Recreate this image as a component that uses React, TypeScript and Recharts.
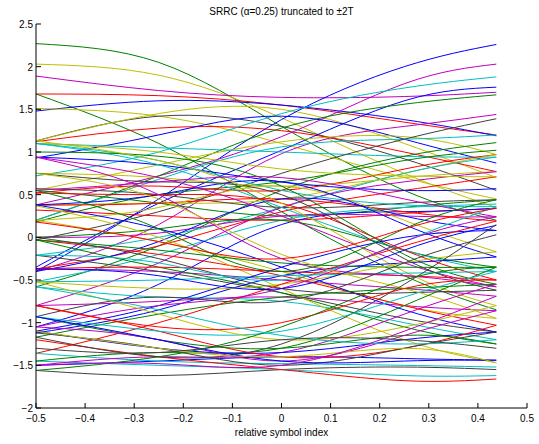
import { LineChart, Line, XAxis, YAxis } from 'recharts'

// sample positions of each trace (symbol periods)
const X_SAMPLES = [-0.5, -0.25, 0, 0.25, 0.4375]

const X_TICKS = [-0.5, -0.4, -0.3, -0.2, -0.1, 0, 0.1, 0.2, 0.3, 0.4, 0.5]
const Y_TICKS = [-2, -1.5, -1, -0.5, 0, 0.5, 1, 1.5, 2, 2.5]

// traces whose centre value sits in the top level
const TOP_TRACES = [
  [2.27, 2.05, 1.3, 0.55, 0.2],
  [2.03, 1.9, 1.4, 0.75, 0.35],
  [1.89, 1.72, 1.64, 1.65, 1.7],
  [1.68, 1.66, 1.55, 1.35, 1.2],
  [1.68, 1.1, 0.3, -0.45, -0.85],
  [1.48, 1.6, 1.55, 1.38, 1.19],
  [1.51, 1.42, 1.1, 0.7, 0.45],
  [1.13, 1.42, 1.3, 0.92, 0.55],
  [1.13, 1.45, 1.5, 1.1, 0.7],
  [1.12, 1.28, 1.25, 1.0, 0.77],
  [-0.4, 0.45, 1.38, 2.0, 2.26],
  [0.38, 0.72, 1.18, 1.8, 2.03],
  [0.72, 1.0, 1.45, 1.75, 1.88],
  [-0.35, 0.4, 1.02, 1.6, 1.76],
  [0.2, 0.72, 1.28, 1.56, 1.67],
  [-0.4, 0.15, 0.98, 1.3, 1.44],
  [0.93, 1.2, 1.42, 1.15, 0.87],
  [0.55, 0.85, 1.12, 1.18, 0.97],
  [0.2, 0.68, 1.06, 1.15, 1.2],
  [1.1, 1.05, 1.0, 0.95, 0.94],
]
const TOP_COLORS = 'gymrgbykyrbmcbgmbycc'

const UPPER_TRACES = [
  [-0.03, 0.3, 0.75, 1.15, 1.39],
  [-0.58, -0.1, 0.55, 0.95, 1.11],
  [0.18, 0.5, 0.65, 0.9, 1.02],
  [0.52, 0.6, 0.55, 0.8, 0.97],
  [0.37, 0.4, 0.45, 0.75, 0.97],
  [-0.21, 0.0, 0.35, 0.75, 0.94],
  [0.75, 0.7, 0.6, 0.7, 0.77],
  [-0.8, -0.3, 0.35, 0.65, 0.77],
  [-0.37, -0.1, 0.3, 0.55, 0.71],
  [1.1, 1.0, 0.8, 0.72, 0.71],
  [0.94, 0.85, 0.65, 0.55, 0.57],
  [0.55, 0.4, 0.25, 0.35, 0.44],
  [0.57, 0.5, 0.35, 0.4, 0.44],
  [-0.52, -0.2, 0.2, 0.35, 0.39],
  [0.32, 0.25, 0.2, 0.28, 0.34],
  [-1.05, -0.55, 0.15, 0.3, 0.34],
  [1.1, 0.9, 0.55, 0.38, 0.36],
  [0.0, 0.05, 0.25, 0.25, 0.24],
  [0.38, 0.4, 0.45, 0.3, 0.19],
  [-0.4, -0.05, 0.45, 0.25, 0.08],
  [0.2, 0.35, 0.6, 0.2, -0.17],
  [0.38, 0.5, 0.65, 0.15, -0.23],
  [0.0, 0.1, 0.2, -0.15, -0.35],
  [1.1, 0.85, 0.35, -0.15, -0.4],
  [0.52, 0.5, 0.4, -0.15, -0.5],
  [1.0, 0.95, 0.6, -0.2, -0.55],
  [0.94, 0.7, 0.25, -0.3, -0.58],
  [0.75, 0.65, 0.5, -0.25, -0.62],
  [1.13, 0.9, 0.4, -0.4, -0.8],
  [0.55, 0.65, 0.7, 0.45, 0.24],
]
const UPPER_COLORS = 'kggrycymrybgkcrbcmrbybgcrgmkym'

const LOWER_TRACES = [
  [-0.37, -0.4, -0.5, -0.6, -0.69],
  [-0.8, -0.75, -0.7, -0.8, -0.86],
  [0.2, -0.05, -0.4, -0.8, -0.95],
  [-0.03, -0.2, -0.45, -0.8, -1.03],
  [0.38, 0.1, -0.35, -0.85, -1.11],
  [-0.21, -0.4, -0.65, -0.95, -1.11],
  [-0.58, -0.7, -0.75, -1.0, -1.2],
  [-0.03, -0.35, -0.65, -1.05, -1.25],
  [0.37, 0.0, -0.6, -1.2, -1.47],
  [-1.12, -0.85, -0.45, -0.3, -0.23],
  [-0.03, -0.15, -0.3, -0.35, -0.35],
  [-0.37, -0.35, -0.4, -0.45, -0.5],
  [-0.52, -0.5, -0.45, -0.42, -0.4],
  [0.94, 0.5, -0.25, -0.45, -0.58],
  [-0.52, -0.6, -0.55, -0.3, -0.17],
  [0.0, -0.25, -0.6, -0.65, -0.62],
  [-1.1, -0.8, -0.35, 0.0, 0.08],
  [-1.17, -0.9, -0.7, -0.6, -0.55],
  [-1.36, -1.0, -0.55, -0.1, 0.19],
  [-0.21, -0.3, -0.5, -0.05, 0.36],
  [-1.05, -0.8, -0.6, -0.05, 0.24],
  [0.75, 0.45, -0.2, -0.6, -0.95],
  [-0.93, -0.7, -0.75, -0.3, 0.03],
  [-0.37, -0.45, -0.6, -0.15, 0.14],
  [0.55, 0.1, -0.4, 0.1, 0.44],
  [0.18, -0.05, -0.25, 0.1, 0.34],
]
const LOWER_COLORS = 'mmyrbkcgybgrcmykbgrcmykbgr'

const BOTTOM_TRACES = [
  [-1.5, -1.45, -1.4, -1.42, -1.44],
  [-1.36, -1.45, -1.48, -1.5, -1.52],
  [-1.56, -1.62, -1.55, -1.52, -1.55],
  [-1.45, -1.5, -1.55, -1.62, -1.62],
  [-1.2, -1.4, -1.55, -1.68, -1.66],
  [-1.45, -1.35, -1.3, -0.8, -0.35],
  [-1.5, -1.4, -1.35, -0.9, -0.55],
  [-1.17, -1.4, -1.25, -0.55, 0.15],
  [-1.1, -1.3, -1.35, -1.2, -1.11],
  [-0.8, -1.1, -1.4, -1.3, -1.03],
  [-0.93, -1.2, -1.3, -1.15, -1.25],
  [-0.93, -1.1, -1.1, -0.7, -0.4],
  [-0.52, -0.9, -1.2, -1.05, -0.8],
  [-1.05, -1.2, -1.45, -1.15, -0.86],
  [-1.12, -1.3, -1.5, -1.3, -1.11],
  [-0.93, -1.2, -1.45, -1.45, -1.44],
  [-0.8, -1.05, -1.0, -0.6, -0.5],
  [-1.56, -1.4, -1.05, -0.5, -0.35],
  [-0.58, -0.85, -1.15, -1.25, -1.2],
  [-1.1, -1.3, -1.4, -1.3, -1.47],
  [-1.5, -1.48, -1.5, -1.1, -0.69],
  [-1.3, -1.35, -1.2, -1.2, -1.3],
]
const BOTTOM_COLORS = 'bckcrgmkbrgcymkbrgcymk'

// matlab default colour order
const MATLAB_COLORS: Record<string, string> = {
  b: '#0000ff',
  g: '#008000',
  r: '#ff0000',
  c: '#00bfbf',
  m: '#bf00bf',
  y: '#bfbf00',
  k: '#404040',
}

const TRACES = [...TOP_TRACES, ...UPPER_TRACES, ...LOWER_TRACES, ...BOTTOM_TRACES]
const TRACE_COLORS = (TOP_COLORS + UPPER_COLORS + LOWER_COLORS + BOTTOM_COLORS).split('')

const data = X_SAMPLES.map((x, i) => {
  const row: Record<string, number> = { x }
  TRACES.forEach((t, j) => {
    row[`t${j}`] = t[i]
  })
  return row
})

const FONT = 'Arial, "Liberation Sans", Helvetica, sans-serif'

const fmt = (v: number) => (v < 0 ? `\u2212${Math.abs(v)}` : `${v}`)

function BottomTick(props: any) {
  const { x, y, payload } = props
  return (
    <g>
      <line x1={x} x2={x} y1={y} y2={y - 5} stroke="#000" />
      <text x={x} y={y + 14} textAnchor="middle" fontSize={10} fontFamily={FONT} fill="#000">
        {fmt(payload.value)}
      </text>
    </g>
  )
}

function TopTick(props: any) {
  const { x, y } = props
  return <line x1={x} x2={x} y1={y} y2={y + 5} stroke="#000" />
}

function LeftTick(props: any) {
  const { x, y, payload } = props
  return (
    <g>
      <line x1={x} x2={x + 5} y1={y} y2={y} stroke="#000" />
      <text x={x - 3} y={y + 4} textAnchor="end" fontSize={10} fontFamily={FONT} fill="#000">
        {fmt(payload.value)}
      </text>
    </g>
  )
}

function RightTick(props: any) {
  const { x, y } = props
  return <line x1={x} x2={x - 5} y1={y} y2={y} stroke="#000" />
}

export default function App() {
  return (
    <div style={{ position: 'absolute', left: 0, top: 0, width: 539, height: 444, background: '#fff' }}>
      <div
        style={{
          position: 'absolute',
          left: 36,
          width: 491,
          top: 6,
          textAlign: 'center',
          fontFamily: FONT,
          fontSize: 10,
          lineHeight: '12px',
        }}
      >
        SRRC (α=0.25) truncated to ±2T
      </div>
      <LineChart width={539} height={444} data={data} margin={{ top: 24, right: 12, bottom: 6, left: 6 }}>
        <XAxis
          xAxisId="b"
          type="number"
          dataKey="x"
          domain={[-0.5, 0.5]}
          ticks={X_TICKS}
          interval={0}
          allowDataOverflow
          tick={BottomTick}
          tickLine={false}
          tickSize={0}
          tickMargin={0}
          axisLine={{ stroke: '#000' }}
          height={30}
        />
        <XAxis
          xAxisId="t"
          orientation="top"
          type="number"
          dataKey="x"
          domain={[-0.5, 0.5]}
          ticks={X_TICKS}
          interval={0}
          allowDataOverflow
          tick={TopTick}
          tickLine={false}
          tickSize={0}
          tickMargin={0}
          axisLine={{ stroke: '#000' }}
          height={0}
        />
        <YAxis
          yAxisId="l"
          type="number"
          domain={[-2, 2.5]}
          ticks={Y_TICKS}
          interval={0}
          allowDataOverflow
          tick={LeftTick}
          tickLine={false}
          tickSize={0}
          tickMargin={0}
          axisLine={{ stroke: '#000' }}
          width={30}
        />
        <YAxis
          yAxisId="r"
          orientation="right"
          type="number"
          domain={[-2, 2.5]}
          ticks={Y_TICKS}
          interval={0}
          allowDataOverflow
          tick={RightTick}
          tickLine={false}
          tickSize={0}
          tickMargin={0}
          axisLine={{ stroke: '#000' }}
          width={0}
        />
        {TRACES.map((_, j) => (
          <Line
            key={j}
            xAxisId="b"
            yAxisId="l"
            type="natural"
            dataKey={`t${j}`}
            stroke={MATLAB_COLORS[TRACE_COLORS[j]]}
            strokeWidth={1}
            dot={false}
            activeDot={false}
            isAnimationActive={false}
          />
        ))}
      </LineChart>
      <div
        style={{
          position: 'absolute',
          left: 36,
          width: 491,
          top: 427,
          textAlign: 'center',
          fontFamily: FONT,
          fontSize: 10,
          lineHeight: '12px',
        }}
      >
        relative symbol index
      </div>
    </div>
  )
}
